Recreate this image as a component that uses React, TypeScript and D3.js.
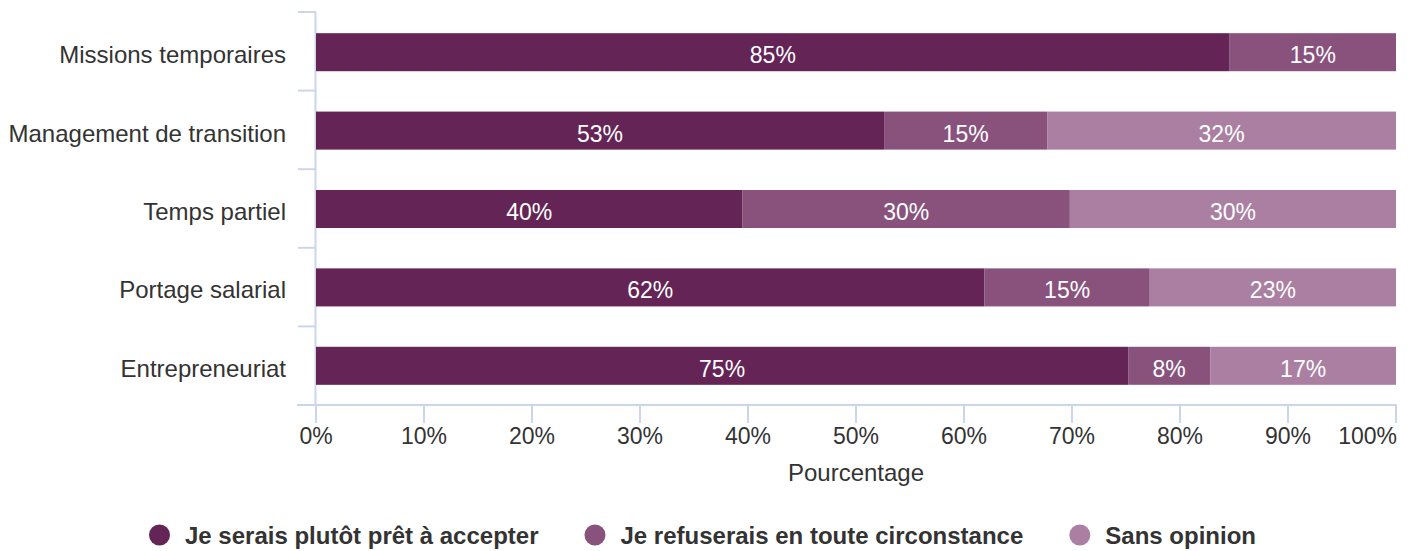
import React, { useEffect, useRef } from "react";
import * as d3 from "d3";

const categories = [
  "Missions temporaires",
  "Management de transition",
  "Temps partiel",
  "Portage salarial",
  "Entrepreneuriat",
];
const seriesNames = [
  "Je serais plutôt prêt à accepter",
  "Je refuserais en toute circonstance",
  "Sans opinion",
];
const accepter = [84.6, 52.6, 39.5, 61.9, 75.2];
const refuser = [15.4, 15.1, 30.3, 15.3, 7.6];
const sansOpinion = [0, 32.3, 30.2, 22.8, 17.2];
const colors = ["#642455", "#88527d", "#aa7fa2"];
const xTicks = [0, 10, 20, 30, 40, 50, 60, 70, 80, 90, 100];
const xTitle = "Pourcentage";

const W = 1417;
const H = 551;
const FONT = "'Liberation Sans', Arial, sans-serif";

export default function App() {
  const ref = useRef<SVGSVGElement | null>(null);
  useEffect(() => {
    const svg = d3.select(ref.current);
    svg.selectAll("*").remove();
    const left = 316, right = 1396, top = 13, bottom = 405;
    const x = d3.scaleLinear().domain([0, 100]).range([left, right]);
    const y = d3.scaleBand().domain(categories).range([top, bottom]).paddingInner(0.515).paddingOuter(0.2575);
    const axisColor = "#ccd6eb";
    const values = [accepter, refuser, sansOpinion];

    // y axis line & ticks at band boundaries
    svg.append("line").attr("x1", left - 0.5).attr("x2", left - 0.5).attr("y1", 12).attr("y2", bottom)
      .attr("stroke", axisColor).attr("stroke-width", 2);
    const step = (bottom - 12) / categories.length;
    d3.range(categories.length + 1).forEach((i) => {
      const yy = 12 + i * step;
      svg.append("line").attr("x1", left - 18).attr("x2", left).attr("y1", yy).attr("y2", yy)
        .attr("stroke", axisColor).attr("stroke-width", 2);
    });
    categories.forEach((c) => {
      svg.append("text").attr("x", left - 30).attr("y", (y(c) as number) + y.bandwidth() / 2 + 11)
        .attr("text-anchor", "end").attr("font-family", FONT).attr("font-size", 24).attr("fill", "#333")
        .text(c);
    });

    // bars
    const stack = d3.stack<number>().keys([0, 1, 2] as any).value((i: number, k: any) => values[k][i]);
    const stacked = stack(d3.range(categories.length));
    stacked.forEach((layer, si) => {
      layer.forEach((seg, ci) => {
        const v = values[si][ci];
        if (!v) return;
        const yy = y(categories[ci]) as number;
        svg.append("rect").attr("x", x(seg[0])).attr("y", yy)
          .attr("width", x(seg[1]) - x(seg[0])).attr("height", y.bandwidth())
          .attr("fill", colors[si]);
        svg.append("text").attr("x", (x(seg[0]) + x(seg[1])) / 2).attr("y", yy + y.bandwidth() / 2 + 11)
          .attr("text-anchor", "middle").attr("font-family", FONT).attr("font-size", 23).attr("fill", "#fff")
          .text(Math.round(v) + "%");
      });
    });

    // x axis
    svg.append("line").attr("x1", left - 19).attr("x2", right + 1).attr("y1", bottom).attr("y2", bottom)
      .attr("stroke", axisColor).attr("stroke-width", 2);
    xTicks.forEach((t) => {
      const xx = x(t);
      svg.append("line").attr("x1", xx).attr("x2", xx).attr("y1", bottom).attr("y2", bottom + 18)
        .attr("stroke", axisColor).attr("stroke-width", 2);
      const last = t === 100;
      svg.append("text").attr("x", last ? xx + 1 : xx).attr("y", 444)
        .attr("text-anchor", last ? "end" : "middle").attr("font-family", FONT).attr("font-size", 23)
        .attr("fill", "#333").text(t + "%");
    });
    svg.append("text").attr("x", (left + right) / 2).attr("y", 481).attr("text-anchor", "middle")
      .attr("font-family", FONT).attr("font-size", 24).attr("fill", "#333").text(xTitle);

    // legend
    const lg = svg.append("g");
    let cx = 0;
    const r = 10.5, gapText = 15, itemGap = 46;
    seriesNames.forEach((name, i) => {
      const g = lg.append("g").attr("transform", `translate(${cx},0)`);
      g.append("circle").attr("cx", r).attr("cy", 535).attr("r", r).attr("fill", colors[i]);
      const t = g.append("text").attr("x", 2 * r + gapText).attr("y", 543.5)
        .attr("font-family", FONT).attr("font-size", 24).attr("font-weight", "bold").attr("fill", "#333")
        .text(name);
      const w = (t.node() as SVGTextElement).getComputedTextLength();
      cx += 2 * r + gapText + w + itemGap;
    });
    const total = cx - itemGap;
    lg.attr("transform", `translate(${W / 2 - total / 2 - 6},0)`);
  }, []);
  return (
    <svg ref={ref} width={W} height={H} style={{ position: "absolute", left: 0, top: 0, background: "#fff" }} />
  );
}
